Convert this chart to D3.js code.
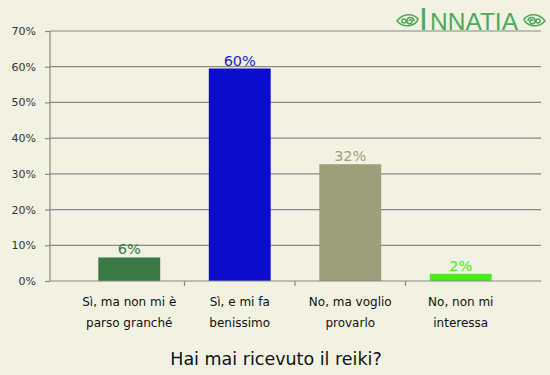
<!DOCTYPE html>
<html>
<head>
<meta charset="utf-8">
<script src="https://cdn.jsdelivr.net/npm/d3@7"></script>
<style>
  body { margin: 0; background: #f2f2e2; }
  svg { display: block; font-family: "DejaVu Sans", Verdana, sans-serif; }
</style>
</head>
<body>
<svg id="chart"></svg>
<script>
const width = 550;
const height = 375;

// data
const categories = [
  ["Sì, ma non mi è", "parso granché"],
  ["Sì, e mi fa", "benissimo"],
  ["No, ma voglio", "provarlo"],
  ["No, non mi", "interessa"]
];
const values = [6.6, 59.5, 32.7, 2.0];
const valueLabels = ["6%", "60%", "32%", "2%"];
const barColors = ["#3a7a46", "#0c0ccc", "#9c9f7a", "#44ee1a"];
const labelColors = ["#3a7a46", "#2222cc", "#9c9f7a", "#44ee1a"];
const yTicks = [0, 10, 20, 30, 40, 50, 60, 70];
const title = "Hai mai ricevuto il reiki?";

const svg = d3.select("#chart")
  .attr("width", width)
  .attr("height", height);

svg.append("rect").attr("width", width).attr("height", height).attr("fill", "#f2f2e2");

const plotLeft = 50, plotRight = 541, plotTop = 31, plotBottom = 281;

const y = d3.scaleLinear().domain([0, 70]).range([plotBottom, plotTop]);
const x = d3.scaleBand()
  .domain(d3.range(categories.length))
  .range([74, 516])
  .paddingInner(0.44)
  .paddingOuter(0.22);

// gridlines
svg.append("g")
  .selectAll("line")
  .data(yTicks.slice(1))
  .join("line")
  .attr("x1", plotLeft).attr("x2", plotRight)
  .attr("y1", d => y(d)).attr("y2", d => y(d))
  .attr("stroke", "#888")
  .attr("stroke-width", 1.2);

// y axis
const yAxis = svg.append("g")
  .attr("transform", `translate(${plotLeft},0)`)
  .call(d3.axisLeft(y).tickValues(yTicks).tickSize(5).tickPadding(9).tickFormat(d => d + "%"));
yAxis.selectAll("line, path").attr("stroke", "#888").attr("stroke-width", 1.2);
yAxis.select(".domain").attr("d", `M0,${plotTop}V${plotBottom}`);
yAxis.selectAll("text").attr("font-size", 11).attr("fill", "#333")
  .attr("font-family", "DejaVu Sans, sans-serif");

// bars
svg.append("g")
  .selectAll("rect")
  .data(values)
  .join("rect")
  .attr("x", (d, i) => x(i))
  .attr("width", x.bandwidth())
  .attr("y", d => y(d))
  .attr("height", d => plotBottom - y(d))
  .attr("fill", (d, i) => barColors[i]);

// value labels
svg.append("g")
  .selectAll("text")
  .data(values)
  .join("text")
  .attr("x", (d, i) => x(i) + x.bandwidth() / 2)
  .attr("y", d => y(d) - 3)
  .attr("text-anchor", "middle")
  .attr("font-size", 14.5)
  .attr("fill", (d, i) => labelColors[i])
  .text((d, i) => valueLabels[i]);

// bottom axis
svg.append("line")
  .attr("x1", plotLeft).attr("x2", plotRight)
  .attr("y1", plotBottom).attr("y2", plotBottom)
  .attr("stroke", "#888").attr("stroke-width", 1.2);

const step = x.step();
svg.append("g")
  .selectAll("line")
  .data(d3.range(1, categories.length))
  .join("line")
  .attr("x1", i => x(i) - x.paddingInner() * step / 2)
  .attr("x2", i => x(i) - x.paddingInner() * step / 2)
  .attr("y1", plotBottom).attr("y2", plotBottom + 5)
  .attr("stroke", "#888").attr("stroke-width", 1.2);

const catText = svg.append("g")
  .selectAll("text")
  .data(categories)
  .join("text")
  .attr("text-anchor", "middle")
  .attr("font-size", 12)
  .attr("fill", "#111");
catText.each(function (d, i) {
  const t = d3.select(this);
  d.forEach((line, j) => {
    t.append("tspan")
      .attr("x", x(i) + x.bandwidth() / 2)
      .attr("y", 306 + j * 21)
      .text(line);
  });
});

// title
svg.append("text")
  .attr("x", 276)
  .attr("y", 365)
  .attr("text-anchor", "middle")
  .attr("font-size", 17.5)
  .attr("fill", "#111")
  .text(title);

// logo
const logo = svg.append("g").attr("fill", "#4cab5a");
logo.append("text")
  .attr("x", 419).attr("y", 30)
  .attr("font-family", "Liberation Sans, sans-serif")
  .attr("font-size", 32)
  .text("I");
logo.append("text")
  .attr("x", 430).attr("y", 30)
  .attr("font-family", "Liberation Sans, sans-serif")
  .attr("font-size", 24.5)
  .text("NNATIA");

const orn = (cx, dir) => {
  const g = svg.append("g")
    .attr("transform", `translate(${cx},21) scale(${dir},1)`)
    .attr("fill", "none")
    .attr("stroke", "#4cab5a")
    .attr("stroke-width", 1.6);
  g.append("path").attr("d", "M-11,0 C-5,-8 5,-8 10,-2 C8,5 -4,8 -11,0 Z");
  g.append("path").attr("d", "M6,0 C6,-4 0,-5 -1,-1 C-2,3 3,4 4,1 C5,-1 2,-2 1,0");
  g.append("circle").attr("cx", -4).attr("cy", 0).attr("r", 2);
};
orn(408, 1);
orn(534, -1);
</script>
</body>
</html>
